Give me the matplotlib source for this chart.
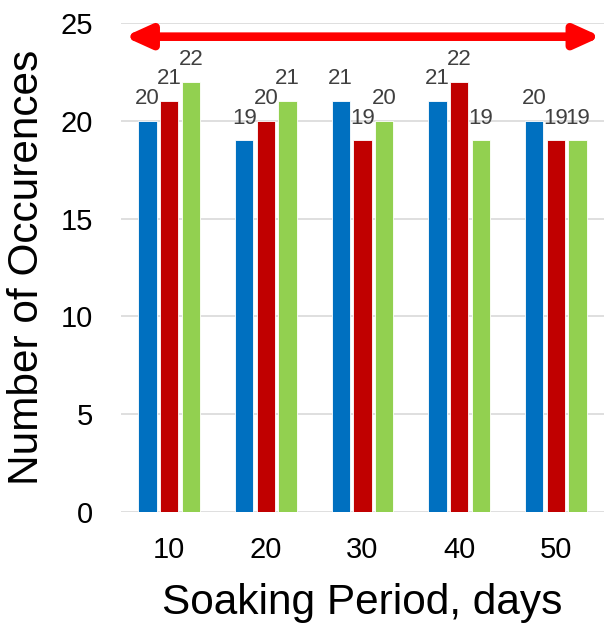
import matplotlib
matplotlib.use("Agg")
import matplotlib.pyplot as plt
import numpy as np

categories = ["10", "20", "30", "40", "50"]
series_a = [20, 19, 21, 21, 20]
series_b = [21, 20, 19, 22, 19]
series_c = [22, 21, 20, 19, 19]
colors = ["#0070C0", "#C00000", "#92D050"]
y_ticks = [0, 5, 10, 15, 20, 25]
arrow_level = 24.3

plt.rcParams['font.family'] = ['Liberation Sans', 'DejaVu Sans']

fig = plt.figure(figsize=(6.06, 6.28), dpi=100)
ax = fig.add_axes([0.1997, 0.1847, 0.7970, 0.7787])

x = np.arange(len(categories))
w = 0.19
offs = [-0.225, 0.0, 0.225]
for s, off, c in zip([series_a, series_b, series_c], offs, colors):
    bars = ax.bar(x + off, s, width=w, color=c, edgecolor="white", linewidth=0.6, zorder=3)
    for b, v in zip(bars, s):
        ax.annotate(str(v), (b.get_x() + b.get_width() / 2, v), xytext=(0, 8.5),
                    textcoords="offset points", ha="center", va="bottom",
                    fontsize=16, color="#404040", zorder=4)

ax.set_xlim(-0.5, 4.5)
ax.set_ylim(0, 25)
ax.set_yticks(y_ticks)
ax.set_xticks(x)
ax.set_xticklabels(categories)
ax.yaxis.grid(True, color="#D9D9D9", linewidth=1.2, zorder=0)
ax.set_axisbelow(True)
for sp in ax.spines.values():
    sp.set_visible(False)
ax.tick_params(axis="both", length=0, labelsize=21, colors="black")
ax.tick_params(axis="x", pad=17)
ax.tick_params(axis="y", pad=20)

ax.annotate("", xy=(-0.465, arrow_level), xytext=(4.47, arrow_level),
            arrowprops=dict(arrowstyle="<|-|>,head_length=0.75,head_width=0.34",
                            mutation_scale=20, color="#FF0000", lw=6.2,
                            shrinkA=0, shrinkB=0),
            zorder=5)

ax.set_xlabel("Soaking Period, days", fontsize=30.5, labelpad=14)
ax.set_ylabel("Number of Occurences", fontsize=30.5, labelpad=10)

fig.savefig("out.png", dpi=100)
